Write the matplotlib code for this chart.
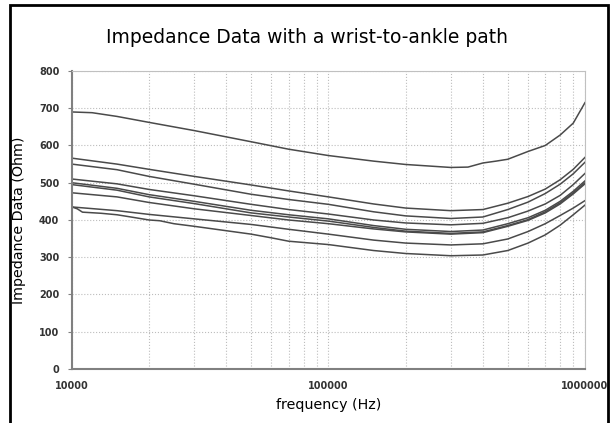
import matplotlib.pyplot as plt
import matplotlib.ticker as mticker
from matplotlib.patches import Rectangle

# frequency points (Hz)
freq = [1e4, 1.5e4, 2e4, 3e4, 5e4, 7e4, 1e5, 1.5e5, 2e5, 3e5, 4e5, 5e5, 6e5, 7e5, 8e5, 9e5, 1e6]

# top curve has its own points
freq_a = [1e4, 1.2e4, 1.5e4, 2e4, 3e4, 5e4, 7e4, 1e5, 1.5e5, 2e5, 3e5, 3.5e5, 4e5, 4.5e5, 5e5, 6e5, 7e5, 8e5, 9e5, 1e6]
imp_a = [690, 688, 678, 662, 640, 610, 590, 573, 558, 549, 541, 542, 553, 558, 563, 584, 600, 628, 660, 715]

imp_b = [566, 550, 536, 517, 494, 478, 462, 443, 432, 425, 428, 445, 463, 483, 508, 536, 568]
imp_c = [550, 535, 517, 496, 469, 455, 442, 422, 411, 404, 408, 428, 448, 471, 496, 524, 555]
imp_d = [510, 497, 482, 465, 442, 428, 416, 400, 392, 387, 391, 406, 424, 443, 466, 495, 525]
imp_e = [500, 485, 468, 450, 426, 414, 403, 385, 375, 369, 373, 390, 406, 426, 450, 477, 505]
imp_f = [495, 480, 462, 444, 419, 408, 397, 380, 370, 364, 368, 385, 401, 422, 446, 473, 500]
imp_g = [473, 462, 447, 430, 412, 400, 390, 376, 368, 362, 366, 383, 399, 419, 443, 470, 497]
imp_h = [435, 425, 415, 403, 388, 375, 362, 346, 338, 333, 336, 349, 369, 390, 412, 432, 452]

# lowest curve, with its early dip
freq_i = [1e4, 1.05e4, 1.1e4, 1.3e4, 1.5e4, 1.7e4, 2e4, 2.2e4, 2.5e4, 3e4, 5e4, 6e4, 7e4, 1e5, 1.5e5, 2e5, 3e5, 4e5, 5e5, 6e5, 7e5, 8e5, 9e5, 1e6]
imp_i = [435, 430, 421, 418, 414, 408, 400, 398, 390, 383, 362, 352, 343, 334, 318, 310, 304, 306, 318, 338, 360, 386, 414, 440]

fig = plt.figure(figsize=(6.15, 4.23), dpi=100)
ax = fig.add_axes([0.1168, 0.1277, 0.8344, 0.7045])

line_col = "#4a4a4a"
ax.plot(freq_a, imp_a, color=line_col, lw=1.1)
for vals in [imp_b, imp_c, imp_d, imp_e, imp_f, imp_g, imp_h]:
    ax.plot(freq, vals, color=line_col, lw=1.1)
ax.plot(freq_i, imp_i, color=line_col, lw=1.1)

ax.set_xscale("log")
ax.set_xlim(1e4, 1e6)
ax.set_ylim(0, 800)
ax.set_yticks(range(0, 801, 100))
ax.xaxis.set_major_locator(mticker.FixedLocator([1e4, 1e5, 1e6]))
ax.xaxis.set_major_formatter(mticker.FuncFormatter(lambda v, p: "%d" % round(v)))
ax.xaxis.set_minor_locator(mticker.LogLocator(base=10, subs=range(2, 10)))
ax.xaxis.set_minor_formatter(mticker.NullFormatter())

ax.grid(True, which="major", color="#bdbdbd", ls=":", lw=0.8)
ax.grid(True, which="minor", axis="x", color="#bdbdbd", ls=":", lw=0.8)

for s in ["top", "right"]:
    ax.spines[s].set_color("#c0c0c0")
    ax.spines[s].set_linewidth(0.8)
for s in ["left", "bottom"]:
    ax.spines[s].set_color("#808080")
    ax.spines[s].set_linewidth(1.5)

ax.tick_params(axis="y", length=3, color="#808080", labelsize=7, pad=6)
ax.tick_params(axis="x", which="both", length=0, labelsize=7, pad=9)
for lab in ax.get_xticklabels() + ax.get_yticklabels():
    lab.set_fontweight("bold")
    lab.set_color("#333333")

ax.set_xlabel("frequency (Hz)", fontsize=10.3, labelpad=5)
ax.set_ylabel("Impedance Data (Ohm)", fontsize=10.3, labelpad=9)
fig.text(0.5, 0.912, "Impedance Data with a wrist-to-ankle path", ha="center", va="center", fontsize=13.5)

# outer frame
fig.patches.append(Rectangle((0.016, -0.01), 0.972, 0.998, transform=fig.transFigure,
                             fill=False, edgecolor="black", lw=2))

fig.savefig("out.png", dpi=100)
